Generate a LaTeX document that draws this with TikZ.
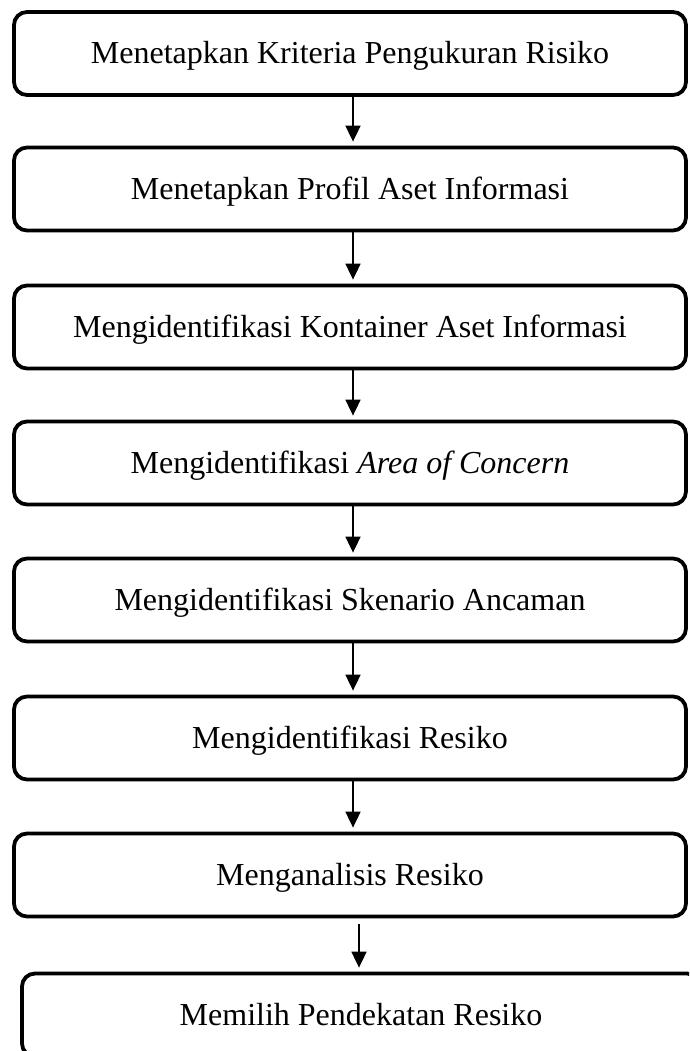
\documentclass[tikz,border=0pt]{standalone}
\usepackage{fontspec}
\setmainfont{Liberation Serif}
\usetikzlibrary{arrows.meta}

\tikzset{
  stepbox/.style={draw, line width=3.8pt, rounded corners=13pt,
    minimum width=672pt, minimum height=83pt, inner sep=0pt,
    text height=24pt, text depth=3pt, font=\fontsize{32}{38}\selectfont},
  flow/.style={line width=1.8pt, -{Triangle[length=16pt, width=15pt]}}
}

\begin{document}
\begin{tikzpicture}[x=1pt, y=-1pt]
    \useasboundingbox (0,0) rectangle (689,1051);
    \clip (0,0) rectangle (689,1051);

    % Steps
    \node[stepbox] (kriteria) at (350, 53.5) {Menetapkan Kriteria Pengukuran Risiko};
    \node[stepbox] (profil) at (350, 189) {Menetapkan Profil Aset Informasi};
    \node[stepbox] (kontainer) at (350, 327) {Mengidentifikasi Kontainer Aset Informasi};
    \node[stepbox] (concern) at (350, 463) {Mengidentifikasi \textit{Area of Concern}};
    \node[stepbox] (skenario) at (350, 600) {Mengidentifikasi Skenario Ancaman};
    \node[stepbox] (identresiko) at (350, 738) {Mengidentifikasi Resiko};
    \node[stepbox] (analisis) at (350, 875) {Menganalisis Resiko};
    \node[stepbox, minimum width=678pt] (pendekatan) at (361, 1015) {Memilih Pendekatan Resiko};

    % Arrows
    \draw[flow] ([xshift=3pt]kriteria.south) -- ([xshift=3pt, yshift=4pt]profil.north);
    \draw[flow] ([xshift=3pt]profil.south) -- ([xshift=3pt, yshift=4pt]kontainer.north);
    \draw[flow] ([xshift=3pt]kontainer.south) -- ([xshift=3pt, yshift=4pt]concern.north);
    \draw[flow] ([xshift=3pt]concern.south) -- ([xshift=3pt, yshift=4pt]skenario.north);
    \draw[flow] ([xshift=3pt]skenario.south) -- ([xshift=3pt, yshift=4pt]identresiko.north);
    \draw[flow] ([xshift=3pt]identresiko.south) -- ([xshift=3pt, yshift=4pt]analisis.north);
    \draw[flow] ([xshift=9pt, yshift=-6pt]analisis.south) -- ([xshift=-2pt, yshift=4pt]pendekatan.north);

\end{tikzpicture}
\end{document}
